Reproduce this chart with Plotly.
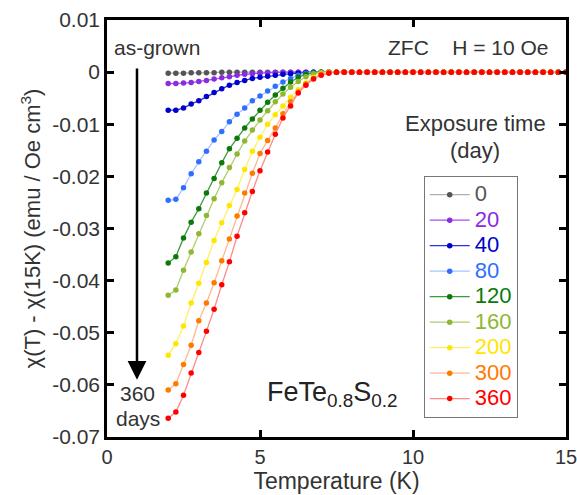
import plotly.graph_objects as go

T = [2.0, 2.25, 2.5, 2.75, 3.0, 3.25, 3.5, 3.75, 4.0, 4.25, 4.5, 4.75, 5.0, 5.25, 5.5, 5.75, 6.0, 6.25, 6.5, 6.75, 7.0,
     7.25, 7.5, 7.75, 8.0, 8.25, 8.5, 8.75, 9.0, 9.25, 9.5, 9.75, 10.0, 10.25, 10.5, 10.75, 11.0, 11.25, 11.5, 11.75,
     12.0, 12.25, 12.5, 12.75, 13.0, 13.25, 13.5, 13.75, 14.0, 14.25, 14.5, 14.75, 15.0]

chi_0 = [-0.0002, -0.0002, -0.0002, -0.0001, -0.0001, -0.0001, -0.0001, 0, 0, 0, 0, 0, 0, 0, 0, 0, 0, 0, 0, 0, 0,
         0, 0, 0, 0, 0, 0, 0, 0, 0, 0, 0, 0, 0, 0, 0, 0, 0, 0, 0, 0, 0, 0, 0, 0, 0, 0, 0, 0, 0, 0, 0, 0]
chi_20 = [-0.0022, -0.0022, -0.0021, -0.0020, -0.0018, -0.0016, -0.0013, -0.0011, -0.0009, -0.0006, -0.0004,
          -0.0003, -0.0002, -0.0001, -0.00005, 0, 0, 0, 0, 0, 0,
          0, 0, 0, 0, 0, 0, 0, 0, 0, 0, 0, 0, 0, 0, 0, 0, 0, 0, 0, 0, 0, 0, 0, 0, 0, 0, 0, 0, 0, 0, 0, 0]
chi_40 = [-0.0073, -0.0073, -0.0069, -0.0061, -0.0055, -0.0047, -0.0039, -0.0032, -0.0025, -0.0020, -0.0016,
          -0.0012, -0.0010, -0.0008, -0.0006, -0.0004, -0.0003, -0.0002, -0.0001, 0, 0,
          0, 0, 0, 0, 0, 0, 0, 0, 0, 0, 0, 0, 0, 0, 0, 0, 0, 0, 0, 0, 0, 0, 0, 0, 0, 0, 0, 0, 0, 0, 0, 0]
chi_80 = [-0.0246, -0.0244, -0.0222, -0.0195, -0.0172, -0.0152, -0.0130, -0.0114, -0.0095, -0.0081, -0.0069,
          -0.0055, -0.0046, -0.0036, -0.0027, -0.0019, -0.0012, -0.0006, -0.0002, 0, 0,
          0, 0, 0, 0, 0, 0, 0, 0, 0, 0, 0, 0, 0, 0, 0, 0, 0, 0, 0, 0, 0, 0, 0, 0, 0, 0, 0, 0, 0, 0, 0, 0]
chi_120 = [-0.0366, -0.0354, -0.0318, -0.0288, -0.0262, -0.0232, -0.0204, -0.0174, -0.0147, -0.0127, -0.0107,
           -0.0090, -0.0073, -0.0058, -0.0044, -0.0031, -0.0019, -0.0010, -0.0004, -0.0001, 0,
           0, 0, 0, 0, 0, 0, 0, 0, 0, 0, 0, 0, 0, 0, 0, 0, 0, 0, 0, 0, 0, 0, 0, 0, 0, 0, 0, 0, 0, 0, 0, 0]
chi_160 = [-0.0428, -0.0418, -0.0380, -0.0345, -0.0310, -0.0275, -0.0243, -0.0212, -0.0183, -0.0157, -0.0132,
           -0.0111, -0.0092, -0.0074, -0.0057, -0.0042, -0.0029, -0.0018, -0.0009, -0.0003, 0,
           0, 0, 0, 0, 0, 0, 0, 0, 0, 0, 0, 0, 0, 0, 0, 0, 0, 0, 0, 0, 0, 0, 0, 0, 0, 0, 0, 0, 0, 0, 0, 0]
chi_200 = [-0.0543, -0.0521, -0.0487, -0.0443, -0.0405, -0.0365, -0.0323, -0.0289, -0.0256, -0.0225, -0.0187,
           -0.0152, -0.0125, -0.0100, -0.0082, -0.0065, -0.0048, -0.0034, -0.0021, -0.0010, -0.0003,
           0, 0, 0, 0, 0, 0, 0, 0, 0, 0, 0, 0, 0, 0, 0, 0, 0, 0, 0, 0, 0, 0, 0, 0, 0, 0, 0, 0, 0, 0, 0, 0]
chi_300 = [-0.0610, -0.0598, -0.0561, -0.0524, -0.0477, -0.0443, -0.0404, -0.0362, -0.0320, -0.0276, -0.0232,
           -0.0194, -0.0156, -0.0131, -0.0107, -0.0080, -0.0057, -0.0038, -0.0023, -0.0012, -0.0004,
           0, 0, 0, 0, 0, 0, 0, 0, 0, 0, 0, 0, 0, 0, 0, 0, 0, 0, 0, 0, 0, 0, 0, 0, 0, 0, 0, 0, 0, 0, 0, 0]
chi_360 = [-0.0664, -0.0652, -0.0620, -0.0577, -0.0538, -0.0497, -0.0455, -0.0408, -0.0364, -0.0315, -0.0270,
           -0.0229, -0.0189, -0.0153, -0.0119, -0.0088, -0.0065, -0.0040, -0.0025, -0.0013, -0.0006,
           -0.0002, 0, 0, 0, 0, 0, 0, 0, 0, 0, 0, 0, 0, 0, 0, 0, 0, 0, 0, 0, 0, 0, 0, 0, 0, 0, 0, 0, 0, 0, 0, 0]

days = ["0", "20", "40", "80", "120", "160", "200", "300", "360"]
series = [chi_0, chi_20, chi_40, chi_80, chi_120, chi_160, chi_200, chi_300, chi_360]
marker_colors = ["#555555", "#8a2be2", "#0000cc", "#2f6fff", "#0a7a0a", "#8fb832", "#ffe600", "#ff7a00", "#ff0000"]
line_colors = ["#b0b0b0", "#a050f0", "#3030d8", "#a8c4ff", "#3a9a3a", "#b0cc70", "#fff066", "#ffb890", "#ff8a8a"]

x_ticks = [0, 5, 10, 15]
y_ticks = [0.01, 0, -0.01, -0.02, -0.03, -0.04, -0.05, -0.06, -0.07]
y_tick_text = ["0.01", "0", "-0.01", "-0.02", "-0.03", "-0.04", "-0.05", "-0.06", "-0.07"]

FONT = "Liberation Sans, Arial, sans-serif"

fig = go.Figure()
for d, y, mc, lc in zip(days, series, marker_colors, line_colors):
    fig.add_trace(go.Scatter(
        x=T, y=y, mode="lines+markers",
        name=f'<span style="color:{mc};font-size:22px">{d}</span>',
        line=dict(color=lc, width=1.3),
        marker=dict(color=mc, size=5.5),
    ))

axis_common = dict(showline=True, linecolor="black", linewidth=2.5, mirror="ticks",
                   ticks="inside", ticklen=7, tickwidth=2.5, tickcolor="black",
                   showgrid=False, zeroline=False, automargin=False, ticklabeloverflow="allow")

fig.update_layout(
    width=577, height=495,
    margin=dict(l=107, r=11, t=20, b=58),
    paper_bgcolor="white", plot_bgcolor="white",
    font=dict(family=FONT, color="#333333"),
    showlegend=True,
    legend=dict(x=0.69, y=0.626, xanchor="left", yanchor="top",
                bordercolor="#777777", borderwidth=1, bgcolor="white",
                font=dict(family=FONT, size=17.3), itemwidth=40, tracegroupgap=0),
    xaxis=dict(range=[0, 15], tickvals=x_ticks,
               tickfont=dict(family=FONT, size=20, color="#333333"),
               title=dict(text="Temperature (K)", font=dict(family=FONT, size=23, color="#333333"), standoff=4),
               **axis_common),
    yaxis=dict(range=[-0.07, 0.01], tickvals=y_ticks, ticktext=y_tick_text,
               tickfont=dict(family=FONT, size=21, color="#333333"),
               title=dict(text="χ(T) - χ(15K) (emu / Oe cm<sup>3</sup>)",
                          font=dict(family=FONT, size=22, color="#333333"), standoff=6),
               **axis_common),
)

ann_font = dict(family=FONT, size=21, color="#333333")
fig.add_annotation(x=1.63, y=0.0048, xref="x", yref="y", text="as-grown", showarrow=False, font=ann_font)
fig.add_annotation(x=14.48, y=0.0048, xref="x", yref="y", xanchor="right",
                   text="ZFC &nbsp;&nbsp;&nbsp;H = 10 Oe", showarrow=False, font=ann_font)
fig.add_annotation(x=12.03, y=-0.0098, xref="x", yref="y", text="Exposure time", showarrow=False,
                   font=dict(family=FONT, size=22, color="#333333"))
fig.add_annotation(x=12.03, y=-0.0150, xref="x", yref="y", text="(day)", showarrow=False,
                   font=dict(family=FONT, size=22, color="#333333"))
fig.add_annotation(x=1.01, y=-0.0616, xref="x", yref="y", text="360", showarrow=False, font=ann_font)
fig.add_annotation(x=1.01, y=-0.0664, xref="x", yref="y", text="days", showarrow=False, font=ann_font)
fig.add_annotation(x=5.15, y=-0.0618, xref="x", yref="y", xanchor="left",
                   text="FeTe<sub>0.8</sub>S<sub>0.2</sub>", showarrow=False,
                   font=dict(family=FONT, size=27, color="#222222"))
fig.add_annotation(x=0.98, y=-0.0590, xref="x", yref="y", ax=0.98, ay=0.0010, axref="x", ayref="y",
                   text="", showarrow=True, arrowhead=2, arrowsize=1.5, arrowwidth=2.5, arrowcolor="black")

fig.write_html("out.html", post_script="document.body.style.margin='0';",
               config={"displayModeBar": False})
